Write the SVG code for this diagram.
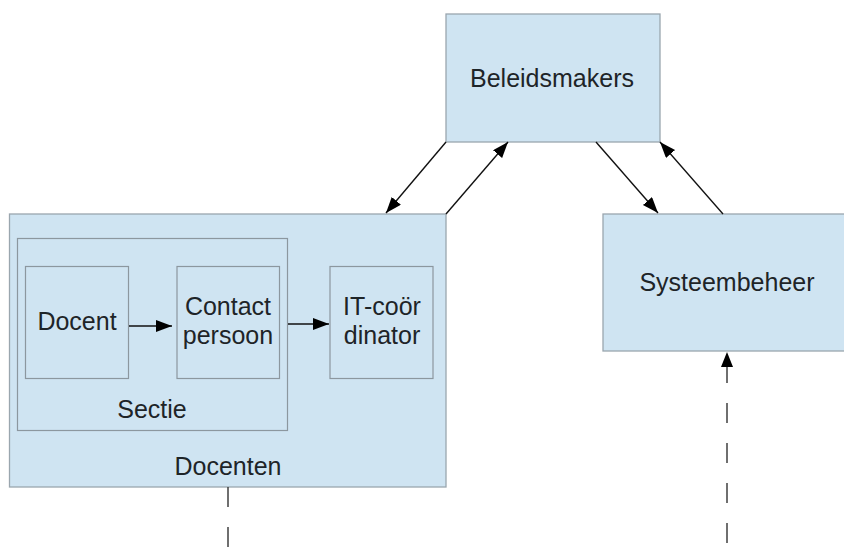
<svg xmlns="http://www.w3.org/2000/svg" width="844" height="548" viewBox="0 0 844 548">
  <defs>
    <style>
      .box { fill: #cfe4f2; stroke: #9aa6ae; stroke-width: 1.3; }
      .inner { fill: none; stroke: #8c979f; stroke-width: 1.2; }
      .lbl { font-family: "Liberation Sans", Arial, sans-serif; font-size: 25px; fill: #1e2428; text-anchor: middle; }
      .conn { stroke: #111; stroke-width: 1.4; fill: none; marker-end: url(#head); }
      .dash { stroke: #333; stroke-width: 1.4; fill: none; stroke-dasharray: 20 20; }
    </style>
    <marker id="head" markerUnits="userSpaceOnUse" markerWidth="18" markerHeight="13" refX="16" refY="6" orient="auto">
      <path d="M0,0 L16,6 L0,12 Z" fill="#000"/>
    </marker>
  </defs>

  <rect width="844" height="548" fill="#ffffff"/>

  <g id="beleidsmakers">
    <rect class="box" x="446" y="14" width="214" height="128"/>
    <text class="lbl" x="552" y="87">Beleidsmakers</text>
  </g>

  <g id="systeembeheer">
    <rect class="box" x="603" y="214" width="250" height="137"/>
    <text class="lbl" x="727" y="291">Systeembeheer</text>
  </g>

  <g id="docenten">
    <rect class="box" x="9.5" y="214" width="436.5" height="273"/>
    <text class="lbl" x="228" y="475">Docenten</text>
  </g>

  <g id="sectie">
    <rect class="inner" x="17.5" y="238.5" width="270" height="192"/>
    <text class="lbl" x="152" y="418">Sectie</text>
  </g>

  <g id="docent">
    <rect class="inner" x="25.5" y="266.5" width="103" height="112"/>
    <text class="lbl" x="77" y="330">Docent</text>
  </g>

  <g id="contactpersoon">
    <rect class="inner" x="177" y="266.5" width="102.5" height="112"/>
    <text class="lbl" x="228" y="315">Contact</text>
    <text class="lbl" x="228" y="344">persoon</text>
  </g>

  <g id="itcoordinator">
    <rect class="inner" x="330" y="266.5" width="103" height="112"/>
    <text class="lbl" x="382" y="315">IT-coör</text>
    <text class="lbl" x="382" y="344">dinator</text>
  </g>

  <g id="connectors">
    <line class="conn" x1="129" y1="326" x2="172" y2="326"/>
    <line class="conn" x1="288" y1="324" x2="329" y2="324"/>
    <line class="conn" x1="446" y1="142" x2="386" y2="213"/>
    <line class="conn" x1="446" y1="214" x2="508" y2="142"/>
    <line class="conn" x1="596" y1="142" x2="658" y2="213"/>
    <line class="conn" x1="723" y1="214" x2="660" y2="142"/>
    <line class="dash" x1="727" y1="548" x2="727" y2="366" stroke-dashoffset="35"/>
    <path d="M727,352 L733,367 L721,367 Z" fill="#000"/>
    <line class="dash" x1="228" y1="487" x2="228" y2="548"/>
  </g>
</svg>
